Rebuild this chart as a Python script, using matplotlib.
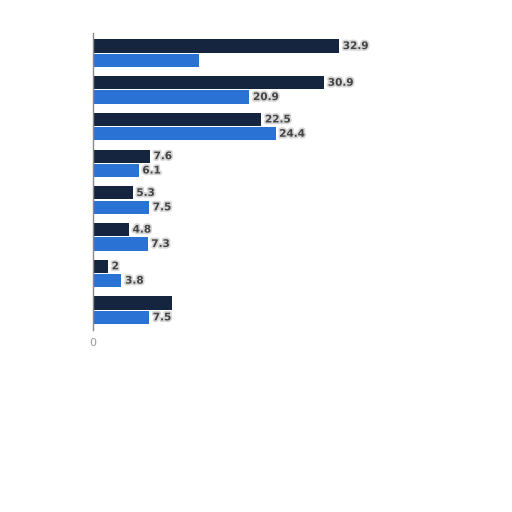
import matplotlib.pyplot as plt
import matplotlib.patheffects as pe
import numpy as np

# values (category names are not shown in it)
dark_vals = [32.9, 30.9, 22.5, 7.6, 5.3, 4.8, 2, 10.6]
blue_vals = [14.2, 20.9, 24.4, 6.1, 7.5, 7.3, 3.8, 7.5]
# labels that can be read; None where the picture shows none
dark_labels = ["32.9", "30.9", "22.5", "7.6", "5.3", "4.8", "2", None]
blue_labels = [None, "20.9", "24.4", "6.1", "7.5", "7.3", "3.8", "7.5"]

dark_col = "#15243f"
blue_col = "#2a72d4"

fig = plt.figure(figsize=(5.12, 5.12), dpi=100)
ax = fig.add_axes([93/512, 1-330/512, 397/512, 297/512])

y = np.arange(len(dark_vals))
off = 0.195
h = 0.36
ax.barh(y-off, dark_vals, height=h, color=dark_col)
ax.barh(y+off, blue_vals, height=h, color=blue_col)

halo = [pe.withStroke(linewidth=2.5, foreground="#d6d6d6")]
for yy, v, lab in zip(y-off, dark_vals, dark_labels):
    if lab:
        ax.text(v+0.5, yy, lab, va="center", ha="left", fontsize=7.5,
                fontweight="bold", color="#444444", path_effects=halo)
for yy, v, lab in zip(y+off, blue_vals, blue_labels):
    if lab:
        ax.text(v+0.5, yy, lab, va="center", ha="left", fontsize=7.5,
                fontweight="bold", color="#444444", path_effects=halo)

ax.set_xlim(0, 397/7.48)
ax.set_ylim(7.54, -0.55)
ax.set_xticks([0])
ax.set_xticklabels(["0"], color="#999999", fontsize=8)
ax.set_yticks([])
ax.tick_params(axis="x", length=0, pad=6)
for s in ["top", "right", "bottom"]:
    ax.spines[s].set_visible(False)
ax.spines["left"].set_color("#888888")
ax.spines["left"].set_linewidth(1)

plt.savefig("out.png", dpi=100)
